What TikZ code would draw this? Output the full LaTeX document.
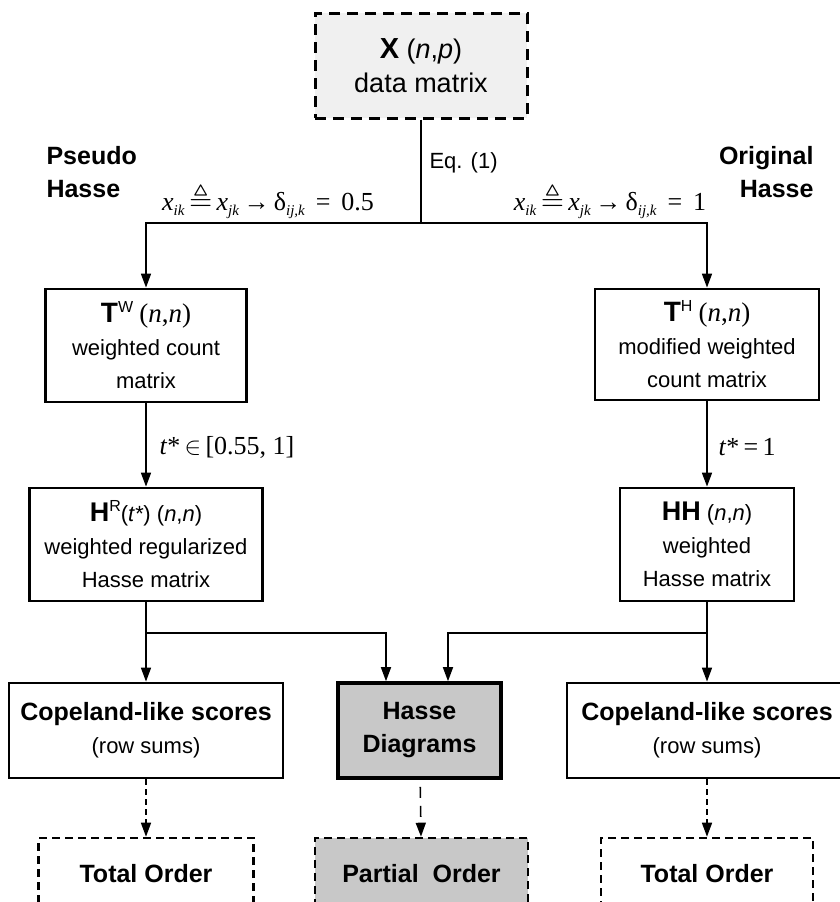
\documentclass[tikz,border=0pt]{standalone}
\usepackage{fontspec}
\usepackage{amssymb}
\setmainfont{Liberation Sans}
\newfontfamily\timesf{Liberation Serif}
\usetikzlibrary{arrows.meta}
\definecolor{paleg}{RGB}{240,240,240}
\definecolor{midg}{RGB}{200,200,200}
\newcommand\lowsub[1]{\raisebox{-5pt}{\fontsize{15}{15}\selectfont\textit{#1}}}
\newcommand\hisup[1]{\raisebox{10pt}{\fontsize{16}{16}\selectfont #1}}
\newcommand\eqdef{\scalebox{1.15}{$\triangleq$}}

\begin{document}
\begin{tikzpicture}[x=1pt, y=-1pt,
  box/.style={draw, line width=2.8pt, align=center, inner sep=0pt, font=\fontsize{22}{33}\selectfont},
  tbox/.style={draw, line width=2.6pt, dash pattern=on 8pt off 5pt, align=center, inner sep=0pt, font=\fontsize{25}{30}\selectfont\bfseries},
  arr/.style={line width=1.6pt, -{Triangle[length=14pt,width=10pt]}},
  lbl/.style={font=\timesf\fontsize{26}{28}\selectfont}]
\useasboundingbox (0,0) rectangle (839,902);
% \tikzstyle{every node}=[font=\sffamily]

% data matrix
\node[box, fill=paleg, line width=3pt, dash pattern=on 11pt off 7pt, minimum width=212pt, minimum height=105pt, font=\fontsize{27}{34}\selectfont] (X) at (421,65.5) {{\fontsize{29}{34}\selectfont\textbf{X}} (\textit{n},\textit{p})\\data matrix};
\node[anchor=west, font=\fontsize{22}{26}\selectfont] (eq) at (426,163) {Eq. (1)};
\node[anchor=west, align=left, font=\fontsize{25}{33}\selectfont\bfseries] (pseudo) at (43,172) {Pseudo\\Hasse};
\node[anchor=east, align=right, font=\fontsize{25}{33}\selectfont\bfseries] (orig) at (817,172) {Original\\Hasse};
\node[lbl] (dL) at (268,201) {\textit{x}\lowsub{ik}\,\eqdef\,\textit{x}\lowsub{jk}\,→\,δ\lowsub{ij,k}\, =\, 0.5};
\node[lbl] (dR) at (610,201) {\textit{x}\lowsub{ik}\,\eqdef\,\textit{x}\lowsub{jk}\,→\,δ\lowsub{ij,k}\, =\, 1};

% count matrices
\node[box, minimum width=201pt, minimum height=113pt] (TW) at (146,345.5) {{\fontsize{28}{33}\selectfont\textbf{T}}\hisup{W} {\timesf\fontsize{27}{33}\selectfont(\textit{n},\textit{n})}\\weighted count\\matrix};
\node[box, minimum width=224pt, minimum height=111pt] (TH) at (707,344.5) {{\fontsize{28}{33}\selectfont\textbf{T}}\hisup{H} {\timesf\fontsize{27}{33}\selectfont(\textit{n},\textit{n})}\\modified weighted\\count matrix};
\node[lbl, anchor=west] (tL) at (156,447) {\textit{t}*\,$\in$\,[0.55,\ 1]};
\node[lbl, anchor=west] (tR) at (715,447) {\textit{t}*\,=\,1};

% Hasse matrices
\node[box, minimum width=233pt, minimum height=113pt] (HR) at (146,544.5) {{\fontsize{27}{33}\selectfont\textbf{H}}\hisup{R}(\textit{t*}) (\textit{n},\textit{n})\\weighted regularized\\Hasse matrix};
\node[box, minimum width=174pt, minimum height=113pt] (HH) at (707,544.5) {{\fontsize{27}{33}\selectfont\textbf{HH}} (\textit{n},\textit{n})\\weighted\\Hasse matrix};

% scores and diagrams
\node[box, minimum width=274pt, minimum height=95pt] (copL) at (146,730.5) {{\fontsize{25}{33}\selectfont\bfseries Copeland-like scores}\\(row sums)};
\node[box, fill=midg, line width=3.6pt, minimum width=163pt, minimum height=95pt, font=\fontsize{25}{33}\selectfont\bfseries] (hasse) at (419.5,730.5) {Hasse\\Diagrams};
\node[box, minimum width=280pt, minimum height=95pt] (copR) at (707,730.5) {{\fontsize{25}{33}\selectfont\bfseries Copeland-like scores}\\(row sums)};

% orders
\node[tbox, minimum width=215pt, minimum height=72pt] (totL) at (146,874) {Total Order};
\node[tbox, fill=midg, minimum width=213pt, minimum height=72pt] (part) at (421.5,874) {Partial\ \ Order};
\node[tbox, minimum width=212pt, minimum height=72pt] (totR) at (707,874) {Total Order};

\coordinate (sp) at (421,223);
\coordinate (jL) at (146,633);
\coordinate (jR) at (707,633);
\coordinate (inL) at ([xshift=-33.5pt]hasse.north);
\coordinate (inR) at ([xshift=28.5pt]hasse.north);

\draw[arr] (X.south) -- (sp) -| (TW.north);
\draw[arr] (sp) -| (TH.north);
\draw[arr] (TW) -- (HR);
\draw[arr] (TH) -- (HH);
\draw[arr] (HR.south) -- (jL) -- (copL.north);
\draw[arr] (jL) -| (inL);
\draw[arr] (HH.south) -- (jR) -- (copR.north);
\draw[arr] (jR) -| (inR);
\draw[arr, dash pattern=on 6pt off 4pt] (copL) -- (totL);
\draw[arr, dash pattern=on 11pt off 8pt, shorten <=7pt] (hasse) -- (part);
\draw[arr, dash pattern=on 6pt off 4pt] (copR) -- (totR);
\end{tikzpicture}
\end{document}
